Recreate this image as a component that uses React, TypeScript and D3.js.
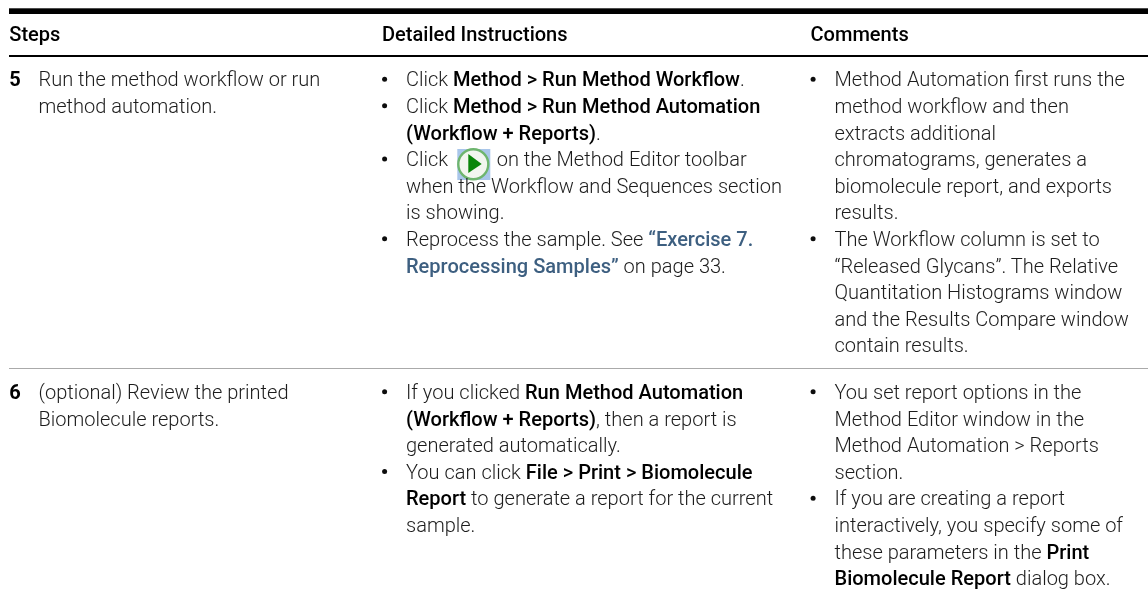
import React from "react";
import * as d3 from "d3";

type Run = { t: string; b?: boolean; link?: boolean; icon?: boolean };
const r = (t: string): Run => ({ t });
const b = (t: string): Run => ({ t, b: true });
const l = (t: string): Run => ({ t, link: true });

const headers = ["Steps", "Detailed Instructions", "Comments"];
const stepNumbers = ["5", "6"];
const stepLines = [
  ["Run the method workflow or run", "method automation."],
  ["(optional) Review the printed", "Biomolecule reports."],
];
const detail5: [boolean, Run[]][] = [
  [true, [r("Click "), b("Method > Run Method Workflow"), r(".")]],
  [true, [r("Click "), b("Method > Run Method Automation")]],
  [false, [b("(Workflow + Reports)"), r(".")]],
  [true, [r("Click "), { t: "", icon: true }, r("on the Method Editor toolbar")]],
  [false, [r("when the Workflow and Sequences section")]],
  [false, [r("is showing.")]],
  [true, [r("Reprocess the sample. See "), l("“Exercise 7.")]],
  [false, [l("Reprocessing Samples”"), r(" on page 33.")]],
];
const comment5: [boolean, Run[]][] = [
  [true, [r("Method Automation first runs the")]],
  [false, [r("method workflow and then")]],
  [false, [r("extracts additional")]],
  [false, [r("chromatograms, generates a")]],
  [false, [r("biomolecule report, and exports")]],
  [false, [r("results.")]],
  [true, [r("The Workflow column is set to")]],
  [false, [r("“Released Glycans”. The Relative")]],
  [false, [r("Quantitation Histograms window")]],
  [false, [r("and the Results Compare window")]],
  [false, [r("contain results.")]],
];
const detail6: [boolean, Run[]][] = [
  [true, [r("If you clicked "), b("Run Method Automation")]],
  [false, [b("(Workflow + Reports)"), r(", then a report is")]],
  [false, [r("generated automatically.")]],
  [true, [r("You can click "), b("File > Print > Biomolecule")]],
  [false, [b("Report"), r(" to generate a report for the current")]],
  [false, [r("sample.")]],
];
const comment6: [boolean, Run[]][] = [
  [true, [r("You set report options in the")]],
  [false, [r("Method Editor window in the")]],
  [false, [r("Method Automation > Reports")]],
  [false, [r("section.")]],
  [true, [r("If you are creating a report")]],
  [false, [r("interactively, you specify some of")]],
  [false, [r("these parameters in the "), b("Print")]],
  [false, [b("Biomolecule Report"), r(" dialog box.")]],
];

const colNames = ["steps", "detail", "comment"];
const col = d3.scaleOrdinal<string, number>().domain(colNames).range([9.3, 382, 810.5]);
const row1 = d3.scaleLinear().domain([0, 1]).range([86.4, 113]);
const row2 = d3.scaleLinear().domain([0, 1]).range([399, 425.6]);
const FS = 20.05;
const font = "Roboto, sans-serif";
const INK = "#1c1c1c";

function Block({ lines, x, y }: { lines: [boolean, Run[]][]; x: number; y: (i: number) => number }) {
  return (
    <g>
      {lines.map(([bullet, runs], i) => (
        <g key={i}>
          {bullet && <circle cx={x + 2.6} cy={y(i) - 7.2} r={2.5} fill="#111" />}
          <text x={x + 24} y={y(i)} fontFamily={font} fontSize={FS} fontWeight={300} fill={INK} xmlSpace="preserve">
            {runs.map((run, j) =>
              run.icon ? null : (
                <tspan
                  key={j}
                  x={j > 0 && runs[j - 1].icon ? x + 114.7 : undefined}
                  fontWeight={run.b || run.link ? 500 : 300}
                  fill={run.link ? "#3d5f80" : run.b ? "#000" : INK}
                >
                  {run.t}
                </tspan>
              ),
            )}
          </text>
        </g>
      ))}
    </g>
  );
}

export default function App() {
  return (
    <svg width={1148} height={597} style={{ position: "absolute", left: 0, top: 0, background: "#fff" }}>
      <defs>
        <filter id="soft" x="0" y="0" width="100%" height="100%">
          <feGaussianBlur stdDeviation="0.35" />
        </filter>
      </defs>
      <rect x={9} y={8.3} width={1139} height={5.7} fill="#000" />
      <rect x={9} y={55} width={1139} height={2} fill="#000" />
      <rect x={9} y={368} width={1139} height={1} fill="#aaa" />
      <g transform={`translate(${457.3},${149})`}>
        <rect width={33} height={31} fill="#a9c6ea" />
        <circle cx={16} cy={15.3} r={15} fill="#f2f6ef" stroke="#6eb56e" strokeWidth={2.4} />
        <path d={d3.line()([[11, 5], [24.4, 15], [11, 24]])! + "Z"} fill="#0a860a" />
      </g>
      <g filter="url(#soft)">
        {headers.map((h, i) => (
          <text key={h} x={col(colNames[i])} y={40.7} fontFamily={font} fontSize={FS} fontWeight={500} fill="#000">
            {h}
          </text>
        ))}
        {stepNumbers.map((n, i) => {
          const y = i === 0 ? row1 : row2;
          return (
            <g key={n}>
              <text x={col("steps")} y={y(0)} fontFamily={font} fontSize={FS} fontWeight={700} fill="#000">{n}</text>
              {stepLines[i].map((t, k) => (
                <text key={k} x={38.5} y={y(k)} fontFamily={font} fontSize={FS} fontWeight={300} fill={INK}>{t}</text>
              ))}
            </g>
          );
        })}
        <Block lines={detail5} x={col("detail")} y={row1} />
        <Block lines={comment5} x={col("comment")} y={row1} />
        <Block lines={detail6} x={col("detail")} y={row2} />
        <Block lines={comment6} x={col("comment")} y={row2} />
      </g>
    </svg>
  );
}
